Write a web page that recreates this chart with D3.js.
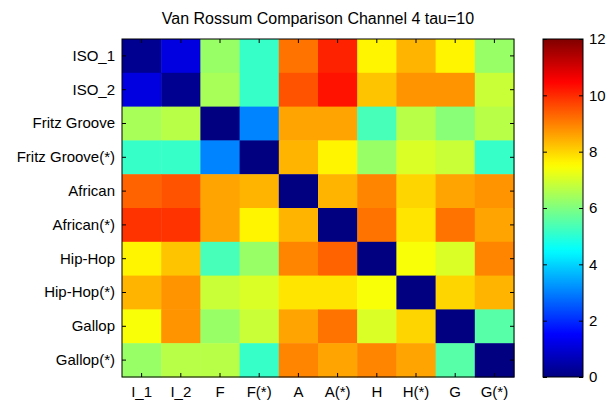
<!DOCTYPE html>
<html>
<head>
<meta charset="utf-8">
<script src="https://cdn.jsdelivr.net/npm/d3@7"></script>
<style>
  body { margin: 0; background: #fff; }
  svg { display: block; font-family: "Liberation Sans", Arial, sans-serif; }
</style>
</head>
<body>
<svg id="chart" width="609" height="400"></svg>
<script>
// 行・列のラベル
const rowLabels = ["ISO_1", "ISO_2", "Fritz Groove", "Fritz Groove(*)", "African",
  "African(*)", "Hip-Hop", "Hip-Hop(*)", "Gallop", "Gallop(*)"];
const colLabels = ["I_1", "I_2", "F", "F(*)", "A", "A(*)", "H", "H(*)", "G", "G(*)"];

// 距離の値
const values = [
  [0.2, 1.2, 6.2, 5.2, 9.2, 10.1, 7.7, 8.4, 7.6, 6.3],
  [1.2, 0.2, 6.5, 5.2, 9.5, 10.2, 8.1, 8.8, 8.8, 6.8],
  [6.4, 6.6, 0.0, 3.1, 8.5, 8.6, 5.3, 6.7, 6.1, 6.7],
  [5.2, 5.2, 3.1, 0.0, 8.4, 7.6, 6.3, 7.0, 6.9, 5.1],
  [9.3, 9.5, 8.5, 8.3, 0.0, 8.3, 8.9, 8.0, 8.5, 8.8],
  [10.0, 10.0, 8.6, 7.7, 8.3, 0.0, 9.2, 7.8, 9.2, 8.5],
  [7.6, 8.2, 5.4, 6.3, 9.0, 9.3, 0.0, 7.5, 7.0, 9.0],
  [8.4, 8.8, 6.9, 7.1, 7.8, 7.8, 7.5, 0.0, 8.0, 8.4],
  [7.5, 8.8, 6.2, 6.8, 8.5, 9.2, 7.0, 8.0, 0.0, 5.5],
  [6.2, 6.7, 6.7, 5.2, 9.0, 8.5, 9.0, 8.5, 5.5, 0.0]
];

const colorTicks = [0, 2, 4, 6, 8, 10, 12];
const title = "Van Rossum Comparison Channel 4 tau=10";

const svg = d3.select("#chart");
const plot = { left: 122, top: 39, right: 514, bottom: 377 };
const bar = { left: 543, right: 583 };

// MATLAB の jet カラーマップ（64段階）
function jet(t) {
  t = Math.round(t * 63) / 63;
  const c = v => Math.max(0, Math.min(1, v));
  const r = c(Math.min(4 * t - 1.5, -4 * t + 4.5));
  const g = c(Math.min(4 * t - 0.5, -4 * t + 3.5));
  const b = c(Math.min(4 * t + 0.5, -4 * t + 2.5));
  return d3.rgb(r * 255, g * 255, b * 255).formatHex();
}

const color = d3.scaleSequential(jet).domain([0, 12]);

const x = d3.scaleBand().domain(colLabels).range([plot.left, plot.right]);
const y = d3.scaleBand().domain(rowLabels).range([plot.top, plot.bottom]);

// セルを描く
const cells = values.flatMap((row, i) => row.map((v, j) => ({ r: rowLabels[i], c: colLabels[j], v })));
svg.append("g")
  .selectAll("rect")
  .data(cells)
  .join("rect")
  .attr("x", d => x(d.c))
  .attr("y", d => y(d.r))
  .attr("width", x.bandwidth() + 0.5)
  .attr("height", y.bandwidth() + 0.5)
  .attr("fill", d => color(d.v));

// 軸（目盛りは内向き）
const fontSize = "15px";
const tickLen = 4;

const xAxis = svg.append("g")
  .attr("transform", `translate(0,${plot.bottom})`)
  .call(d3.axisBottom(x).tickSizeInner(-tickLen).tickSizeOuter(0).tickPadding(9));
const xTop = svg.append("g")
  .attr("transform", `translate(0,${plot.top})`)
  .call(d3.axisTop(x).tickSizeInner(-tickLen).tickSizeOuter(0).tickFormat(""));
const yAxis = svg.append("g")
  .attr("transform", `translate(${plot.left},0)`)
  .call(d3.axisLeft(y).tickSizeInner(-tickLen).tickSizeOuter(0).tickPadding(7));
const yRight = svg.append("g")
  .attr("transform", `translate(${plot.right},0)`)
  .call(d3.axisRight(y).tickSizeInner(-tickLen).tickSizeOuter(0).tickFormat(""));

[xAxis, xTop, yAxis, yRight].forEach(a => {
  a.select(".domain").remove();
  a.selectAll("text").attr("font-size", fontSize).attr("font-family", null).attr("fill", "#000");
  a.selectAll("line").attr("stroke", "#000");
});

svg.append("rect")
  .attr("x", plot.left).attr("y", plot.top)
  .attr("width", plot.right - plot.left).attr("height", plot.bottom - plot.top)
  .attr("fill", "none").attr("stroke", "#000").attr("stroke-width", 1);

// タイトル
svg.append("text")
  .attr("x", (plot.left + plot.right) / 2)
  .attr("y", 24)
  .attr("text-anchor", "middle")
  .attr("font-size", "16px")
  .text(title);

// カラーバー
const cy = d3.scaleLinear().domain([0, 12]).range([plot.bottom, plot.top]);
const defs = svg.append("defs");
const grad = defs.append("linearGradient")
  .attr("id", "jetgrad")
  .attr("x1", 0).attr("y1", 1).attr("x2", 0).attr("y2", 0);
grad.selectAll("stop")
  .data(d3.range(0, 64))
  .join("stop")
  .attr("offset", d => d / 63)
  .attr("stop-color", d => jet(d / 63));

svg.append("rect")
  .attr("x", bar.left).attr("y", plot.top)
  .attr("width", bar.right - bar.left).attr("height", plot.bottom - plot.top)
  .attr("fill", "url(#jetgrad)");

const cAxis = svg.append("g")
  .attr("transform", `translate(${bar.right},0)`)
  .call(d3.axisRight(cy).tickValues(colorTicks).tickSizeInner(-tickLen).tickSizeOuter(0).tickPadding(6));
const cLeft = svg.append("g")
  .attr("transform", `translate(${bar.left},0)`)
  .call(d3.axisLeft(cy).tickValues(colorTicks).tickSizeInner(-tickLen).tickSizeOuter(0).tickFormat(""));
[cAxis, cLeft].forEach(a => {
  a.select(".domain").remove();
  a.selectAll("text").attr("font-size", fontSize).attr("font-family", null).attr("fill", "#000");
  a.selectAll("line").attr("stroke", "#000");
});

svg.append("rect")
  .attr("x", bar.left).attr("y", plot.top)
  .attr("width", bar.right - bar.left).attr("height", plot.bottom - plot.top)
  .attr("fill", "none").attr("stroke", "#000").attr("stroke-width", 1);
</script>
</body>
</html>
